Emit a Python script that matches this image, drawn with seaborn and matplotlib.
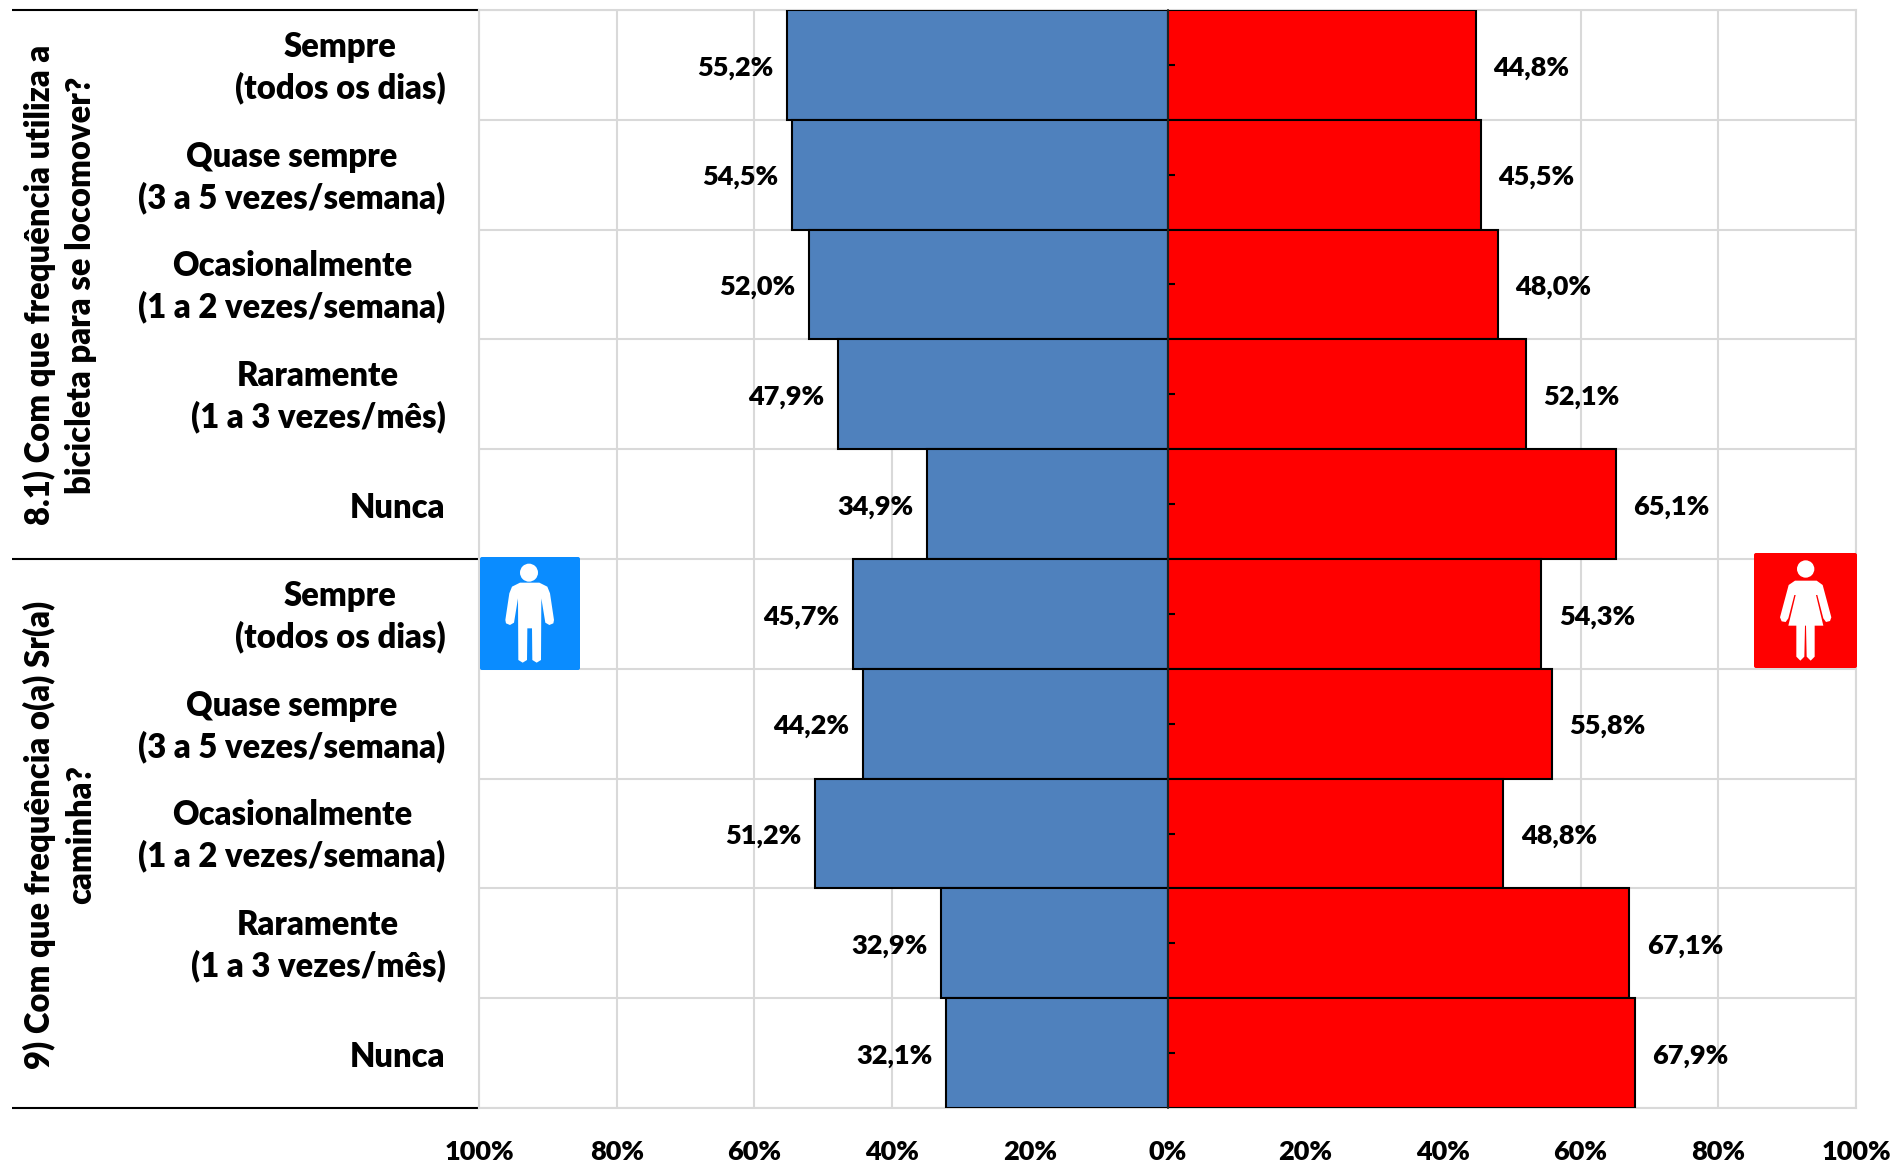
import matplotlib
matplotlib.use("Agg")
import matplotlib.pyplot as plt
import matplotlib.patches as mpatches
import matplotlib.transforms as mtrans
import numpy as np
import pandas as pd
import seaborn as sns

row_ids = [f"r{i}" for i in range(10)]
categories = [
    "Sempre\n(todos os dias)", "Quase sempre\n(3 a 5 vezes/semana)",
    "Ocasionalmente\n(1 a 2 vezes/semana)", "Raramente\n(1 a 3 vezes/mês)", "Nunca",
    "Sempre\n(todos os dias)", "Quase sempre\n(3 a 5 vezes/semana)",
    "Ocasionalmente\n(1 a 2 vezes/semana)", "Raramente\n(1 a 3 vezes/mês)", "Nunca",
]
men = [55.2, 54.5, 52.0, 47.9, 34.9, 45.7, 44.2, 51.2, 32.9, 32.1]
women = [44.8, 45.5, 48.0, 52.1, 65.1, 54.3, 55.8, 48.8, 67.1, 67.9]
group_labels = [
    "8.1) Com que frequência utiliza a\nbicicleta para se locomover?",
    "9) Com que frequência o(a) Sr(a)\ncaminha?",
]
x_ticks = [-100, -80, -60, -40, -20, 0, 20, 40, 60, 80, 100]

W, H = 1897, 1163
sns.set_theme(style="white")
plt.rcParams["font.family"] = ["Lato", "DejaVu Sans"]
FS = 23.6
WEIGHT = "heavy"

df = pd.DataFrame({"row": row_ids, "men": -np.array(men), "women": women})

fig = plt.figure(figsize=(W / 100, H / 100), dpi=100)
ax = fig.add_axes([479 / W, 1 - 1108 / H, (1856 - 479) / W, (1108 - 10) / H])

# bars
sns.barplot(data=df, x="men", y="row", order=row_ids, orient="h", color="#4F81BD", saturation=1,
            width=1, edgecolor="black", linewidth=1.5, ax=ax, zorder=3)
sns.barplot(data=df, x="women", y="row", order=row_ids, orient="h", color="#FF0000", saturation=1,
            width=1, edgecolor="black", linewidth=1.5, ax=ax, zorder=3)

left_labels = ax.bar_label(ax.containers[0], labels=[f"{v:.1f}%".replace(".", ",") for v in men],
                           padding=10, fontsize=19.5, fontweight=WEIGHT, color="black")
right_labels = ax.bar_label(ax.containers[1], labels=[f"{v:.1f}%".replace(".", ",") for v in women],
                            padding=12.5, fontsize=19.5, fontweight=WEIGHT, color="black")
# labels sit slightly below the row centre
for t in list(left_labels) + list(right_labels):
    t.xyann = (t.xyann[0], -2)

ax.set_xlim(-100, 100)
ax.set_ylim(9.5, -0.5)
ax.set_xlabel("")
ax.set_ylabel("")

# axes, grid
ax.set_xticks(x_ticks)
ax.set_xticklabels([f"{abs(v)}%" for v in x_ticks], fontsize=19.5, fontweight=WEIGHT, color="black")
ax.tick_params(axis="x", length=0, pad=23)
ax.set_yticks(range(10))
ax.set_yticklabels(categories, fontsize=FS, fontweight=WEIGHT, color="black",
                   ma="center", linespacing=1.32)
ax.set_yticks(np.arange(-0.5, 10), minor=True)
ax.tick_params(axis="y", which="major", length=0, pad=24)
ax.tick_params(axis="y", which="minor", length=6.5, width=1.5, color="black")
# two-line labels sit a bit higher than the single-line ones
for lab in ax.get_yticklabels():
    dy = 3.4 if "\n" in lab.get_text() else -0.8
    lab.set_transform(lab.get_transform() + mtrans.ScaledTranslation(0, dy / 72, fig.dpi_scale_trans))
ax.set_axisbelow(True)
ax.grid(axis="x", which="major", color="#D9D9D9", lw=1.5)
ax.grid(axis="y", which="minor", color="#D9D9D9", lw=1.5)
ax.grid(axis="y", which="major", visible=False)
for s in ax.spines.values():
    s.set_color("#D9D9D9")
    s.set_linewidth(1.5)

center = ax.secondary_yaxis(0.5)
center.set_yticks(range(10))
center.set_yticklabels([])
center.tick_params(length=5, width=1.5, color="black")
center.spines["left"].set_color("black")
center.spines["left"].set_linewidth(1.5)
center.set_zorder(5)

# group separators on the left
tr = mtrans.blended_transform_factory(fig.transFigure, ax.transData)
for y in [-0.5, 4.5, 9.5]:
    ax.plot([12 / W, 479 / W], [y, y], transform=tr, color="black", lw=1.5, clip_on=False,
            solid_capstyle="butt")

fig.text(60 / W, 1 - 285 / H, group_labels[0], rotation=90, ha="center", va="center", ma="center",
         fontsize=FS, fontweight=WEIGHT, color="black", linespacing=1.32)
fig.text(60 / W, 1 - 835 / H, group_labels[1], rotation=90, ha="center", va="center", ma="center",
         fontsize=FS, fontweight=WEIGHT, color="black", linespacing=1.32)

# pictograms
over = fig.add_axes([0, 0, 1, 1], zorder=10)
over.set_xlim(0, W)
over.set_ylim(H, 0)
over.axis("off")
over.patch.set_alpha(0)


def badge(x0, y0, x1, y1, color):
    over.add_patch(mpatches.FancyBboxPatch((x0 + 1, y0 + 1), x1 - x0 - 2, y1 - y0 - 2,
                                           boxstyle="round,pad=1,rounding_size=2", fc=color, ec="none"))


def figure_shape(ox, oy, head, outline):
    over.add_patch(mpatches.Circle((ox + head[0] / 3, oy + head[1] / 3), head[2] / 3, fc="white", ec="none"))
    pts = [(ox + a / 3, oy + b / 3) for a, b in outline]
    over.add_patch(mpatches.Polygon(pts, closed=True, fc="white", ec="none", joinstyle="round"))


badge(480, 557, 580, 670, "#0A8CFF")
figure_shape(470, 540, (177, 98, 27), [
    (150, 128), (208, 128), (232, 140), (240, 160), (252, 240), (250, 250), (238, 255), (226, 248),
    (214, 175), (213, 360), (200, 368), (187, 360), (186, 265), (172, 265), (171, 360), (158, 368),
    (145, 360), (144, 175), (132, 248), (120, 255), (108, 250), (106, 240), (118, 160), (126, 140)])

badge(1754, 553, 1857, 668, "#FF0000")
figure_shape(1740, 540, (197, 87, 26), [
    (165, 122), (230, 122), (248, 135), (274, 232), (270, 243), (258, 246), (250, 235), (232, 165),
    (228, 165), (250, 257), (224, 257), (224, 350), (212, 362), (200, 350), (198, 257), (195, 257),
    (193, 350), (181, 362), (169, 350), (169, 257), (145, 257), (167, 165), (163, 165), (145, 235),
    (137, 246), (125, 244), (120, 232), (146, 135)])

fig.savefig("out.png", dpi=100, facecolor="white")
